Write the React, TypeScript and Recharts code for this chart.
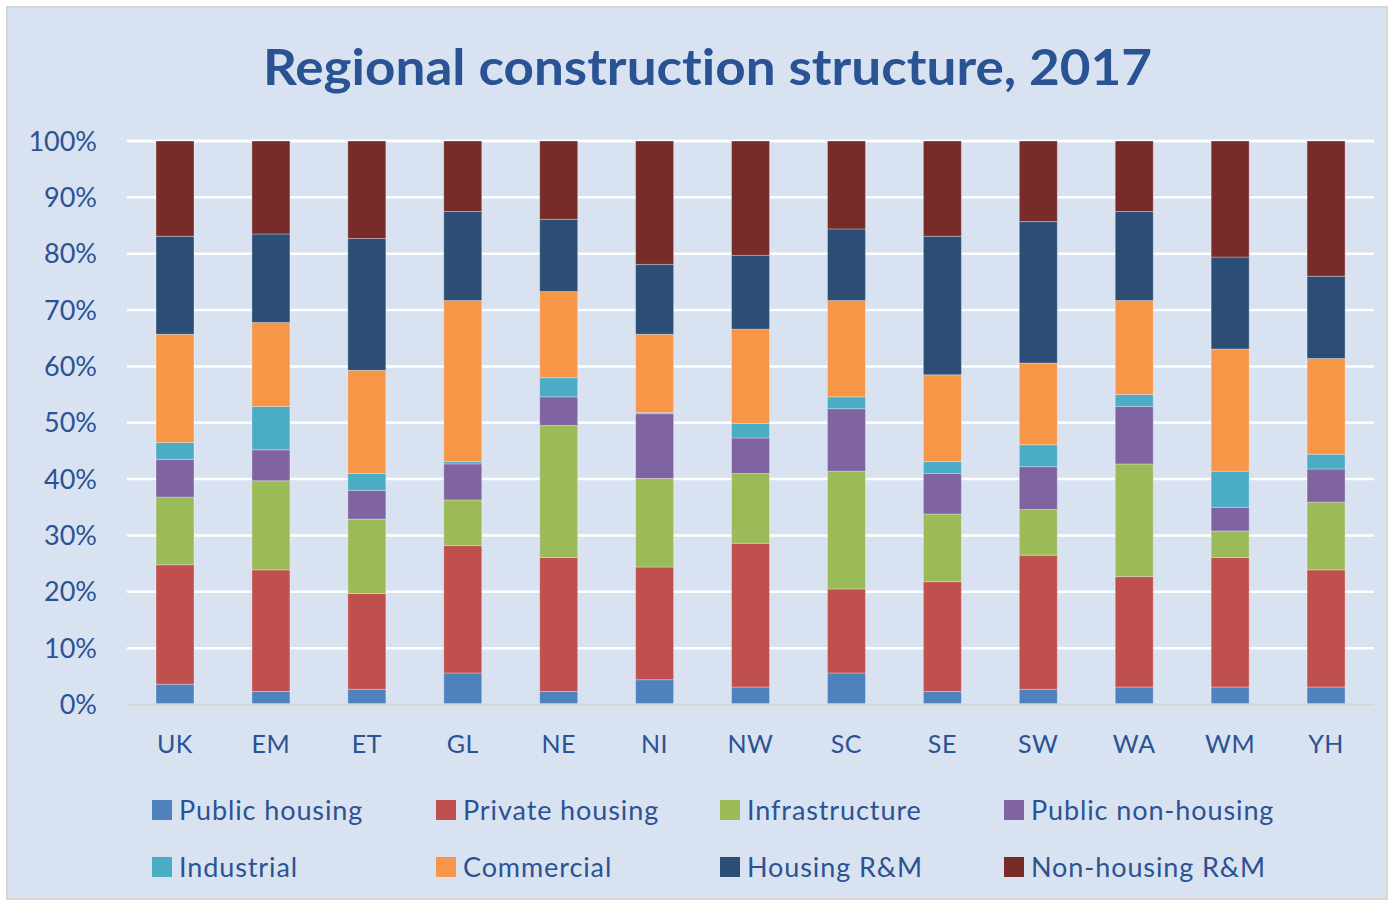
import { BarChart, Bar, XAxis, YAxis, CartesianGrid } from "recharts";

const regions = ["UK", "EM", "ET", "GL", "NE", "NI", "NW", "SC", "SE", "SW", "WA", "WM", "YH"];

const publicHousing    = [3.6, 2.3, 2.7, 5.6, 2.3, 4.4, 3.1, 5.6, 2.3, 2.7, 3.1, 3.1, 3.1];
const privateHousing   = [21.2, 21.6, 17.0, 22.6, 23.8, 20.0, 25.5, 14.9, 19.5, 23.8, 19.6, 23.0, 20.8];
const infrastructure   = [12.0, 15.8, 13.2, 8.1, 23.4, 15.7, 12.4, 20.9, 12.0, 8.1, 20.0, 4.7, 12.0];
const publicNonHousing = [6.7, 5.5, 5.1, 6.4, 5.1, 11.5, 6.3, 11.1, 7.2, 7.6, 10.2, 4.2, 5.9];
const industrial       = [3.0, 7.7, 3.0, 0.4, 3.4, 0.2, 2.6, 2.1, 2.1, 3.9, 2.1, 6.4, 2.6];
const commercial       = [19.2, 14.9, 18.3, 28.6, 15.3, 13.9, 16.7, 17.1, 15.4, 14.5, 16.7, 21.7, 17.0];
const housingRM        = [17.4, 15.7, 23.4, 15.8, 12.8, 12.4, 13.1, 12.7, 24.6, 25.1, 15.8, 16.3, 14.6];
const nonHousingRM     = [16.9, 16.5, 17.3, 12.5, 13.9, 21.9, 20.3, 15.6, 16.9, 14.3, 12.5, 20.6, 24.0];

const yTicks = [0, 10, 20, 30, 40, 50, 60, 70, 80, 90, 100];

const series = [
  { key: "publicHousing",    name: "Public housing",     color: "#4f81bd", values: publicHousing },
  { key: "privateHousing",   name: "Private housing",    color: "#c0504d", values: privateHousing },
  { key: "infrastructure",   name: "Infrastructure",     color: "#9bbb59", values: infrastructure },
  { key: "publicNonHousing", name: "Public non-housing", color: "#8064a2", values: publicNonHousing },
  { key: "industrial",       name: "Industrial",         color: "#4bacc6", values: industrial },
  { key: "commercial",       name: "Commercial",         color: "#f79646", values: commercial },
  { key: "housingRM",        name: "Housing R&M",        color: "#2c4d75", values: housingRM },
  { key: "nonHousingRM",     name: "Non-housing R&M",    color: "#772c2a", values: nonHousingRM },
];

const data = regions.map((region, i) => {
  const row: Record<string, string | number> = { region };
  series.forEach((s) => { row[s.key] = s.values[i]; });
  return row;
});

const textBlue = "#2a5394";
const font = "Lato, 'Open Sans', sans-serif";

export default function App() {
  return (
    <div style={{ position: "absolute", left: 0, top: 0, width: 1394, height: 906, background: "#ffffff", fontVariantLigatures: "none" }}>
      <div
        style={{
          position: "absolute", left: 6, top: 6, width: 1378, height: 890,
          background: "#d9e2f1", border: "2px solid #d6d6d6",
        }}
      />
      <svg width={1394} height={110} style={{ position: "absolute", left: 0, top: 0 }}>
        <text
          x={263} y={85} fill={textBlue}
          textLength={889} lengthAdjust="spacingAndGlyphs"
          style={{ fontFamily: font, fontSize: 50, fontWeight: 700, fontVariantLigatures: "none" }}
        >
          Regional construction structure, 2017
        </text>
      </svg>

      <div style={{ position: "absolute", left: 0, top: 0 }}>
        <BarChart
          width={1394}
          height={906}
          data={data}
          margin={{ top: 141, right: 20, left: 0, bottom: 161.5 }}
          barSize={38}
          accessibilityLayer={false}
        >
          <CartesianGrid vertical={false} stroke="#ffffff" strokeWidth={2.5} />
          <XAxis
            dataKey="region"
            height={40}
            tickSize={0}
            tickMargin={31}
            axisLine={{ stroke: "#d4d4d4", strokeWidth: 2.5 }}
            tickLine={false}
            tick={{ fill: textBlue, fontSize: 25, fontFamily: font, letterSpacing: 0.5 }}
            interval={0}
          />
          <YAxis
            width={127}
            domain={[0, 100]}
            ticks={yTicks}
            tickSize={0}
            tickMargin={30}
            axisLine={false}
            tickLine={false}
            tickFormatter={(v: number) => `${v}%`}
            tick={{ fill: textBlue, fontSize: 27, fontFamily: font }}
          />
          {series.map((s) => (
            <Bar
              key={s.key}
              dataKey={s.key}
              name={s.name}
              stackId="a"
              fill={s.color}
              stroke="rgba(255,255,255,0.3)"
              strokeWidth={1}
              isAnimationActive={false}
            />
          ))}
        </BarChart>
      </div>

      <div style={{ position: "absolute", left: 152, top: 796, width: 1200 }}>
        {[0, 1].map((row) => (
          <div key={row} style={{ display: "flex", height: 57 }}>
            {series.slice(row * 4, row * 4 + 4).map((s) => (
              <div key={s.key} style={{ width: 284, display: "flex", alignItems: "center", height: 28 }}>
                <span style={{ display: "inline-block", width: 20, height: 20, background: s.color, marginRight: 7 }} />
                <span style={{ fontFamily: font, fontSize: 27, color: textBlue, lineHeight: "28px", letterSpacing: 0.9 }}>{s.name}</span>
              </div>
            ))}
          </div>
        ))}
      </div>
    </div>
  );
}
